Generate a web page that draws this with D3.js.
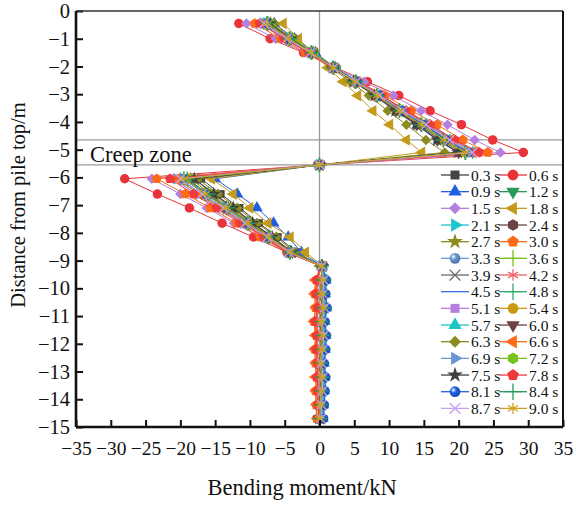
<!DOCTYPE html>
<html>
    <head>
        <meta charset="utf-8" />
        <script src="https://d3js.org/d3.v7.min.js"></script>
        <style>
            body { margin: 0; background: white; }
        </style>
    </head>
    <body>
        <svg width="576" height="507" font-family="Liberation Serif"></svg>
        <script>
            // depth below pile top (m)
            const depth = [-0.45, -1.0, -1.5, -2.05, -2.55, -3.05, -3.6, -4.1, -4.65, -5.1,
                -5.55, -6.05, -6.6, -7.1, -7.65, -8.15, -8.7, -9.2, -9.7, -10.2,
                -10.7, -11.2, -11.7, -12.2, -12.7, -13.2, -13.7, -14.2, -14.7]

            const times = ['0.3 s', '0.6 s', '0.9 s', '1.2 s', '1.5 s', '1.8 s', '2.1 s', '2.4 s',
                '2.7 s', '3.0 s', '3.3 s', '3.6 s', '3.9 s', '4.2 s', '4.5 s', '4.8 s',
                '5.1 s', '5.4 s', '5.7 s', '6.0 s', '6.3 s', '6.6 s', '6.9 s', '7.2 s',
                '7.5 s', '7.8 s', '8.1 s', '8.4 s', '8.7 s', '9.0 s']

            const xTicks = [-35, -30, -25, -20, -15, -10, -5, 0, 5, 10, 15, 20, 25, 30, 35]
            const yTicks = [0, -1, -2, -3, -4, -5, -6, -7, -8, -9, -10, -11, -12, -13, -14, -15]
            const creepZone = [-4.65, -5.55]

            // bending moment (kN) per time step
            const m0_3 = [-7.5, -4.3, -1.2, 2.0, 5.2, 8.3, 11.5, 14.7, 17.8, 21.0, 0, -17.0, -14.2, -11.5, -8.7, -6.0, -3.3, 0.3, 0.5, 0.4, 0.6, 0.3, 0.5, 0.4, 0.2, 0.4, 0.3, 0.2, 0.1]
            const m0_6 = [-11.6, -7.1, -2.3, 2.4, 6.9, 11.4, 15.9, 20.4, 24.9, 29.3, 0.1, -28.0, -23.3, -18.7, -14.0, -9.5, -4.7, 0.2, -0.3, -0.4, -0.2, -0.5, -0.3, -0.4, -0.3, -0.2, -0.3, -0.2, -0.1]
            const m0_9 = [-6.5, -3.6, -0.6, 2.3, 5.3, 8.2, 11.2, 14.1, 17.1, 20.0, 0, -15.0, -11.8, -9.0, -6.6, -4.5, -2.6, 0.4, 0.9, 0.8, 1.0, 0.7, 0.9, 0.8, 0.6, 0.7, 0.6, 0.5, 0.4]
            const m1_2 = [-8.0, -4.7, -1.3, 2.0, 5.3, 8.7, 12.0, 15.3, 18.7, 22.0, 0, -20.0, -16.9, -13.8, -10.7, -7.5, -4.4, 0.3, 0.4, 0.3, 0.5, 0.2, 0.4, 0.3, 0.1, 0.3, 0.2, 0.1, 0.0]
            const m1_5 = [-10.5, -6.3, -2.0, 2.2, 6.4, 10.6, 14.6, 18.4, 22.3, 26.0, 0, -24.1, -20.0, -16.2, -12.3, -8.4, -4.5, 0.2, 0.5, 0.4, 0.6, 0.3, 0.5, 0.4, 0.2, 0.4, 0.3, 0.2, 0.1]
            const m1_8 = [-5.2, -3.0, -0.9, 1.2, 3.4, 5.5, 7.7, 10.1, 12.5, 14.7, 0, -15.5, -12.4, -10.0, -7.4, -4.2, -2.0, 0.5, 0.7, 0.6, 0.8, 0.5, 0.7, 0.6, 0.4, 0.6, 0.5, 0.4, 0.3]
            const m2_1 = [-8.0, -4.6, -1.2, 2.2, 5.6, 9.0, 12.3, 15.7, 19.1, 22.5, 0, -20.5, -17.3, -14.1, -10.9, -7.7, -4.5, 0.3, 0.8, 0.7, 0.9, 0.6, 0.8, 0.7, 0.5, 0.7, 0.6, 0.4, 0.3]
            const m2_4 = [-7.5, -4.3, -1.1, 2.2, 5.4, 8.6, 11.8, 15.1, 18.3, 21.5, 0, -19.0, -16.0, -13.1, -10.1, -7.2, -4.2, 0.3, 0.3, 0.2, 0.4, 0.1, 0.3, 0.2, 0.0, 0.2, 0.1, 0.0, -0.1]
            const m2_7 = [-7.0, -3.9, -0.9, 2.2, 5.2, 8.3, 11.3, 14.4, 17.4, 20.5, 0, -18.5, -15.6, -12.8, -9.9, -7.0, -4.1, 0.4, 0.6, 0.5, 0.7, 0.4, 0.6, 0.5, 0.3, 0.5, 0.4, 0.3, 0.2]
            const m3_0 = [-9.3, -5.6, -2.0, 1.8, 5.6, 9.4, 13.2, 16.9, 20.6, 24.2, 0, -23.4, -19.3, -15.7, -11.9, -8.5, -4.7, 0.2, -0.5, -0.7, -0.6, -0.8, -0.5, -0.7, -0.6, -0.4, -0.6, -0.5, -0.4]
            const m3_3 = [-8.2, -4.8, -1.4, 2.0, 5.4, 8.8, 12.1, 15.5, 18.8, 22.2, 0, -20.2, -17.0, -13.9, -10.8, -7.6, -4.4, 0.3, 0.7, 0.6, 0.8, 0.5, 0.7, 0.6, 0.4, 0.6, 0.5, 0.4, 0.3]
            const m3_6 = [-7.6, -4.4, -1.2, 2.0, 5.1, 8.3, 11.5, 14.6, 17.8, 21.0, 0, -19.5, -16.5, -13.4, -10.4, -7.3, -4.3, 0.3, 0.4, 0.3, 0.5, 0.2, 0.4, 0.3, 0.1, 0.3, 0.2, 0.1, 0.0]
            const m3_9 = [-7.1, -4.0, -0.9, 2.1, 5.1, 8.2, 11.2, 14.3, 17.4, 20.4, 0, -18.0, -15.2, -12.4, -9.6, -6.8, -4.0, 0.4, 0.5, 0.4, 0.6, 0.3, 0.5, 0.4, 0.2, 0.4, 0.3, 0.2, 0.1]
            const m4_2 = [-8.5, -5.0, -1.5, 2.0, 5.5, 9.0, 12.5, 16.0, 19.5, 23.0, 0, -21.0, -17.7, -14.4, -11.1, -7.8, -4.5, 0.2, -0.2, -0.3, -0.1, -0.4, -0.2, -0.3, -0.1, -0.2, -0.1, 0.0, 0.1]
            const m4_5 = [-7.4, -4.2, -1.0, 2.3, 5.5, 8.7, 11.9, 15.1, 18.3, 21.6, 0, -19.2, -16.2, -13.2, -10.2, -7.2, -4.2, 0.3, 0.9, 0.8, 1.0, 0.7, 0.9, 0.8, 0.6, 0.8, 0.7, 0.6, 0.5]
            const m4_8 = [-7.5, -4.3, -1.2, 2.0, 5.2, 8.3, 11.5, 14.7, 17.8, 21.0, 0, -19.5, -16.4, -13.4, -10.3, -7.3, -4.2, 0.3, 0.5, 0.4, 0.6, 0.3, 0.5, 0.4, 0.2, 0.4, 0.3, 0.2, 0.1]
            const m5_1 = [-8.5, -5.1, -1.6, 1.8, 5.3, 8.7, 12.1, 15.6, 19.0, 22.5, 0, -21.0, -17.7, -14.4, -11.1, -7.8, -4.5, 0.3, 0.6, 0.5, 0.7, 0.4, 0.6, 0.5, 0.3, 0.5, 0.4, 0.3, 0.2]
            const m5_4 = [-6.9, -3.8, -0.8, 2.3, 5.3, 8.4, 11.4, 14.5, 17.5, 20.6, 0, -18.5, -15.6, -12.7, -9.8, -6.9, -4.0, 0.4, 0.2, 0.1, 0.3, 0.0, 0.2, 0.1, -0.1, 0.1, 0.0, -0.1, -0.2]
            const m5_7 = [-8.0, -4.6, -1.3, 2.0, 5.4, 8.7, 12.0, 15.4, 18.7, 22.0, 0, -20.0, -16.9, -13.8, -10.6, -7.5, -4.4, 0.3, 0.9, 0.8, 1.0, 0.8, 0.9, 0.8, 0.7, 0.8, 0.7, 0.6, 0.5]
            const m6_0 = [-7.0, -4.0, -1.0, 2.0, 5.0, 8.0, 11.0, 14.0, 17.0, 20.0, 0, -18.0, -15.1, -12.3, -9.5, -6.7, -3.9, 0.4, 0.3, 0.2, 0.4, 0.1, 0.3, 0.2, 0.0, 0.2, 0.1, 0.0, -0.1]
            const m6_3 = [-6.5, -3.8, -1.1, 1.7, 4.4, 7.1, 9.8, 12.5, 15.3, 18.0, 0, -17.5, -14.6, -11.8, -9.0, -6.2, -3.6, 0.4, 0.4, 0.3, 0.5, 0.2, 0.4, 0.3, 0.1, 0.3, 0.2, 0.1, 0.0]
            const m6_6 = [-7.9, -4.6, -1.2, 2.1, 5.4, 8.8, 12.1, 15.4, 18.8, 22.1, 0, -20.5, -17.3, -14.1, -10.9, -7.7, -4.5, 0.2, -0.6, -0.7, -0.5, -0.8, -0.6, -0.7, -0.5, -0.6, -0.5, -0.4, -0.3]
            const m6_9 = [-7.5, -4.3, -1.1, 2.1, 5.4, 8.6, 11.8, 15.0, 18.3, 21.5, 0, -19.5, -16.4, -13.4, -10.4, -7.3, -4.3, 0.3, 0.7, 0.6, 0.8, 0.5, 0.7, 0.6, 0.4, 0.6, 0.5, 0.4, 0.3]
            const m7_2 = [-7.0, -3.9, -0.8, 2.3, 5.4, 8.6, 11.7, 14.8, 17.9, 21.0, 0, -19.0, -16.0, -13.1, -10.1, -7.2, -4.2, 0.3, 0.5, 0.4, 0.6, 0.3, 0.5, 0.4, 0.2, 0.4, 0.3, 0.2, 0.1]
            const m7_5 = [-7.1, -4.1, -1.1, 1.9, 4.9, 7.9, 10.9, 13.9, 16.9, 19.9, 0, -18.0, -15.2, -12.4, -9.6, -6.8, -4.0, 0.4, 0.4, 0.3, 0.5, 0.2, 0.4, 0.3, 0.1, 0.3, 0.2, 0.1, 0.0]
            const m7_8 = [-8.6, -5.1, -1.6, 1.9, 5.4, 8.9, 12.4, 15.9, 19.4, 22.9, 0, -21.5, -18.1, -14.8, -11.4, -8.0, -4.6, 0.2, -0.4, -0.5, -0.3, -0.6, -0.4, -0.5, -0.3, -0.4, -0.3, -0.2, -0.1]
            const m8_1 = [-7.5, -4.3, -1.1, 2.2, 5.4, 8.6, 11.8, 15.0, 18.2, 21.4, 0, -19.5, -16.4, -13.4, -10.4, -7.3, -4.3, 0.4, 1.0, 0.9, 1.1, 0.8, 1.0, 0.9, 0.7, 0.9, 0.8, 0.7, 0.6]
            const m8_4 = [-7.4, -4.3, -1.1, 2.0, 5.2, 8.3, 11.5, 14.6, 17.8, 20.9, 0, -19.0, -16.0, -13.1, -10.1, -7.2, -4.2, 0.3, 0.5, 0.4, 0.6, 0.3, 0.5, 0.4, 0.2, 0.4, 0.3, 0.2, 0.1]
            const m8_7 = [-8.0, -4.7, -1.3, 2.0, 5.3, 8.7, 12.0, 15.3, 18.7, 22.0, 0, -20.0, -16.9, -13.8, -10.7, -7.5, -4.4, 0.3, 0.6, 0.5, 0.7, 0.4, 0.6, 0.5, 0.3, 0.5, 0.4, 0.3, 0.2]
            const m9_0 = [-7.5, -4.4, -1.2, 2.0, 5.1, 8.3, 11.5, 14.7, 17.9, 21.0, 0, -19.5, -16.4, -13.4, -10.3, -7.3, -4.2, 0.3, 0.4, 0.3, 0.5, 0.2, 0.4, 0.3, 0.1, 0.3, 0.2, 0.1, 0.0]

            const moments = [m0_3, m0_6, m0_9, m1_2, m1_5, m1_8, m2_1, m2_4, m2_7, m3_0,
                m3_3, m3_6, m3_9, m4_2, m4_5, m4_8, m5_1, m5_4, m5_7, m6_0,
                m6_3, m6_6, m6_9, m7_2, m7_5, m7_8, m8_1, m8_4, m8_7, m9_0]

            const colors = ['#454545', '#e8333a', '#1f5fe0', '#2a9a5a', '#b57fe0', '#c39a1b',
                '#1ec6cc', '#6d4242', '#8a8a1e', '#ff6a16', '#6896d2', '#78c21e',
                '#6a6a6a', '#f0606a', '#3a6ee0', '#34a86a', '#b57fe0', '#c99a12',
                '#1ec6c6', '#6d4242', '#8a8a1e', '#ff6a16', '#6896d2', '#78c21e',
                '#404040', '#ee3a3a', '#1f5fe0', '#2a9a5a', '#c8a0f0', '#d0a020']
            const shapes = ['square', 'circle', 'up', 'down', 'diamond', 'left', 'right', 'hexagon',
                'star', 'pentagon', 'sphere', 'plus', 'times', 'asterisk', 'none', 'plus',
                'square', 'circle', 'up', 'down', 'diamond', 'left', 'right', 'hexagon',
                'star', 'pentagon', 'sphere', 'plus', 'times', 'asterisk']

            const FONT = 'Liberation Serif'
            const margin = { top: 11, right: 13, bottom: 80, left: 76 }
            const width = 576 - margin.left - margin.right
            const height = 507 - margin.top - margin.bottom

            const svg = d3.select('svg')
            const g = svg.append('g').attr('transform', `translate(${margin.left},${margin.top})`)

            const x = d3.scaleLinear().domain([-35, 35]).range([0, width])
            const y = d3.scaleLinear().domain([0, -15]).range([0, height])

            // reference lines
            g.append('line')
                .attr('x1', x(0)).attr('x2', x(0))
                .attr('y1', 0).attr('y2', height)
                .style('stroke', '#9a9a9a').style('stroke-width', 1.3)
            creepZone.forEach((d) => {
                g.append('line')
                    .attr('x1', 0).attr('x2', width)
                    .attr('y1', y(d)).attr('y2', y(d))
                    .style('stroke', '#9a9a9a').style('stroke-width', 1.3)
            })
            g.append('text')
                .attr('x', 14).attr('y', y(creepZone[1]) - 3)
                .attr('font-family', FONT).attr('font-size', 22.5).attr('fill', '#111')
                .text('Creep zone')

            // symbols
            const polygon = (n) => ({
                draw(ctx, size) {
                    const r = Math.sqrt(size / ((n / 2) * Math.sin((2 * Math.PI) / n)))
                    for (let i = 0; i < n; i++) {
                        const a = (i * 2 * Math.PI) / n - Math.PI / 2
                        if (i === 0) ctx.moveTo(r * Math.cos(a), r * Math.sin(a))
                        else ctx.lineTo(r * Math.cos(a), r * Math.sin(a))
                    }
                    ctx.closePath()
                },
            })
            const symbolDef = {
                square: [d3.symbolSquare, 0, 62],
                circle: [d3.symbolCircle, 0, 70],
                sphere: [d3.symbolCircle, 0, 70],
                up: [d3.symbolTriangle, 0, 60],
                down: [d3.symbolTriangle, 180, 60],
                left: [d3.symbolTriangle, -90, 60],
                right: [d3.symbolTriangle, 90, 60],
                diamond: [d3.symbolSquare, 45, 55],
                hexagon: [polygon(6), 0, 68],
                pentagon: [polygon(5), 0, 68],
                star: [d3.symbolStar, 0, 60],
                plus: [d3.symbolPlus, 0, 70],
                times: [d3.symbolTimes, 0, 60],
                asterisk: [d3.symbolAsterisk, 0, 70],
            }
            const strokeShapes = ['plus', 'times', 'asterisk']

            const defs = svg.append('defs')
            colors.forEach((c, i) => {
                if (shapes[i] !== 'sphere') return
                const grad = defs.append('radialGradient')
                    .attr('id', 'sph' + i).attr('cx', '35%').attr('cy', '35%').attr('r', '60%')
                grad.append('stop').attr('offset', '0%').attr('stop-color', '#ffffff')
                grad.append('stop').attr('offset', '45%').attr('stop-color', c)
                grad.append('stop').attr('offset', '100%').attr('stop-color', d3.color(c).darker(0.6))
            })

            function drawMarker(sel, i, scale) {
                const shape = shapes[i]
                if (shape === 'none') return
                const [type, rot, size] = symbolDef[shape]
                const p = sel.append('path')
                    .attr('d', d3.symbol().type(type).size(size * scale)())
                    .attr('transform', `rotate(${rot})`)
                if (strokeShapes.includes(shape)) {
                    p.style('fill', 'none').style('stroke', colors[i]).style('stroke-width', 1.3)
                } else if (shape === 'sphere') {
                    p.style('fill', `url(#sph${i})`)
                } else {
                    p.style('fill', colors[i])
                }
            }

            const line = d3.line().x((d) => x(d[0])).y((d) => y(d[1]))

            moments.forEach((vals, i) => {
                const pts = vals.map((v, k) => [v, depth[k]])
                const sg = g.append('g')
                sg.append('path')
                    .attr('d', line(pts))
                    .style('fill', 'none')
                    .style('stroke', colors[i])
                    .style('stroke-width', 1)
                sg.selectAll('g.mk')
                    .data(pts)
                    .enter()
                    .append('g')
                    .attr('class', 'mk')
                    .attr('transform', (d) => `translate(${x(d[0])},${y(d[1])})`)
                    .each(function () { drawMarker(d3.select(this), i, 1) })
            })

            // axes
            const xAxis = d3.axisBottom(x).tickValues(xTicks).tickSizeInner(-7).tickSizeOuter(0).tickPadding(14)
            const yAxis = d3.axisLeft(y).tickValues(yTicks).tickSizeInner(-7).tickSizeOuter(0).tickPadding(6)
            const gx = g.append('g').attr('transform', `translate(0,${height})`).call(xAxis)
            const gy = g.append('g').call(yAxis)
            gx.attr('font-family', FONT).attr('font-size', 19.5)
            gy.attr('font-family', FONT).attr('font-size', 20.5)
            gx.selectAll('text').attr('fill', '#111')
            gy.selectAll('text').attr('fill', '#111')
            gx.selectAll('line').style('stroke', '#111').style('stroke-width', 2)
            gy.selectAll('line').style('stroke', '#111').style('stroke-width', 2)
            gx.select('.domain').remove()
            gy.select('.domain').remove()

            // frame
            g.append('line').attr('x1', 0).attr('x2', width).attr('y1', 0).attr('y2', 0)
                .style('stroke', '#333').style('stroke-width', 1.3)
            g.append('line').attr('x1', width).attr('x2', width).attr('y1', 0).attr('y2', height)
                .style('stroke', '#111').style('stroke-width', 2)
            g.append('line').attr('x1', 0).attr('x2', width).attr('y1', height).attr('y2', height)
                .style('stroke', '#111').style('stroke-width', 2.6)
            g.append('line').attr('x1', 0).attr('x2', 0).attr('y1', 0).attr('y2', height)
                .style('stroke', '#111').style('stroke-width', 2.6)

            // legend
            const legend = svg.append('g')
            const colX = [441, 499]
            times.forEach((t, i) => {
                const row = Math.floor(i / 2)
                const lx = colX[i % 2]
                const ly = 175 + row * 16.67
                const lg = legend.append('g').attr('transform', `translate(${lx},${ly})`)
                lg.append('line').attr('x1', 0).attr('x2', 28).attr('y1', 0).attr('y2', 0)
                    .style('stroke', colors[i]).style('stroke-width', 1.3)
                const mg = lg.append('g').attr('transform', 'translate(14,0)')
                drawMarker(mg, i, 1.3)
                lg.append('text').attr('x', 30).attr('y', 5.5)
                    .attr('font-family', FONT).attr('font-size', 15.5).attr('fill', '#111')
                    .text(t)
            })

            // axis titles
            svg.append('text')
                .attr('x', margin.left + x(-2.5)).attr('y', 495)
                .attr('text-anchor', 'middle')
                .attr('font-family', FONT).attr('font-size', 22.5).attr('fill', '#111')
                .text('Bending moment/kN')
            svg.append('text')
                .attr('transform', 'translate(25,205) rotate(-90)')
                .attr('text-anchor', 'middle')
                .attr('font-family', FONT).attr('font-size', 20.5).attr('fill', '#111')
                .text('Distance from pile top/m')
        </script>
    </body>
</html>
